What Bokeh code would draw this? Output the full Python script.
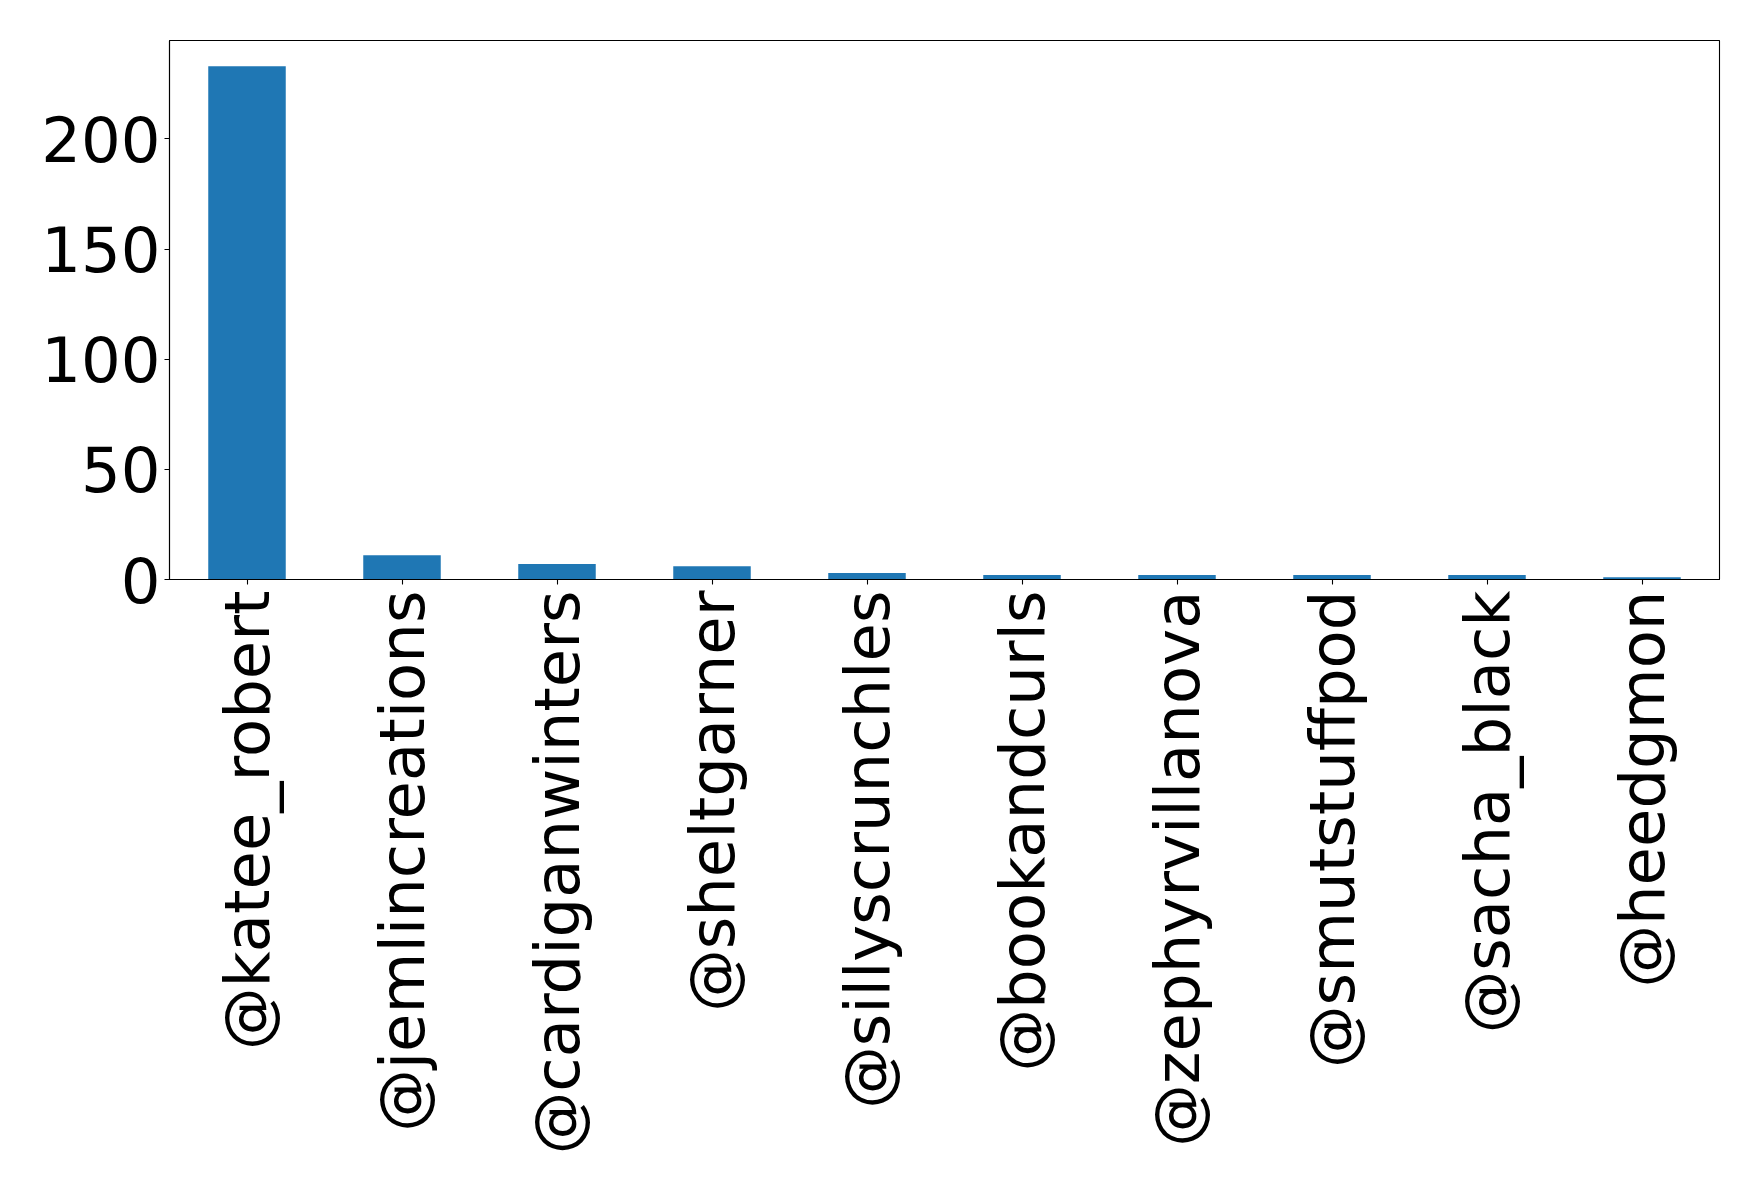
from bokeh.plotting import figure
from bokeh.models import Range1d, FixedTicker, ColumnDataSource
from bokeh.embed import file_html
from bokeh.resources import INLINE
import math

users = ["@katee_robert", "@jemlincreations", "@cardiganwinters", "@sheltgarner",
         "@sillyscrunchles", "@bookandcurls", "@zephyrvillanova", "@smutstuffpod",
         "@sacha_black", "@heedgmon"]
counts = [233, 11, 7, 6, 3, 2, 2, 2, 2, 1]
y_ticks = [0, 50, 100, 150, 200]

src = ColumnDataSource(dict(user=users, count=counts))

p = figure(x_range=users, y_range=Range1d(0, max(counts) * 1.05),
           frame_width=1550, frame_height=539,
           min_border_left=169, min_border_top=40, min_border_right=23, min_border_bottom=597,
           output_backend="svg", toolbar_location=None,
           background_fill_color="white", border_fill_color="white")
p.x_range.range_padding = 0

p.vbar(x="user", top="count", width=0.5, source=src, fill_color="#1f77b4", line_color=None)

p.xgrid.visible = False
p.ygrid.visible = False
p.outline_line_color = "black"
p.outline_line_width = 1.1
p.outline_line_alpha = 1

FONT = "DejaVu Sans"
for ax in (p.xaxis[0], p.yaxis[0]):
    ax.major_label_text_font = FONT
    ax.major_label_text_font_size = "62.5px"
    ax.major_label_text_color = "black"
    ax.axis_line_color = "black"
    ax.axis_line_width = 1.1
    ax.major_tick_line_color = "black"
    ax.major_tick_line_width = 1.1
    ax.major_tick_out = 5
    ax.major_tick_in = 0
    ax.minor_tick_line_color = None

p.yaxis[0].ticker = FixedTicker(ticks=y_ticks)
p.yaxis[0].major_label_standoff = 4
p.xaxis[0].major_label_orientation = math.pi / 2
p.xaxis[0].major_label_standoff = 6

open("out.html", "w").write(file_html(p, INLINE))
